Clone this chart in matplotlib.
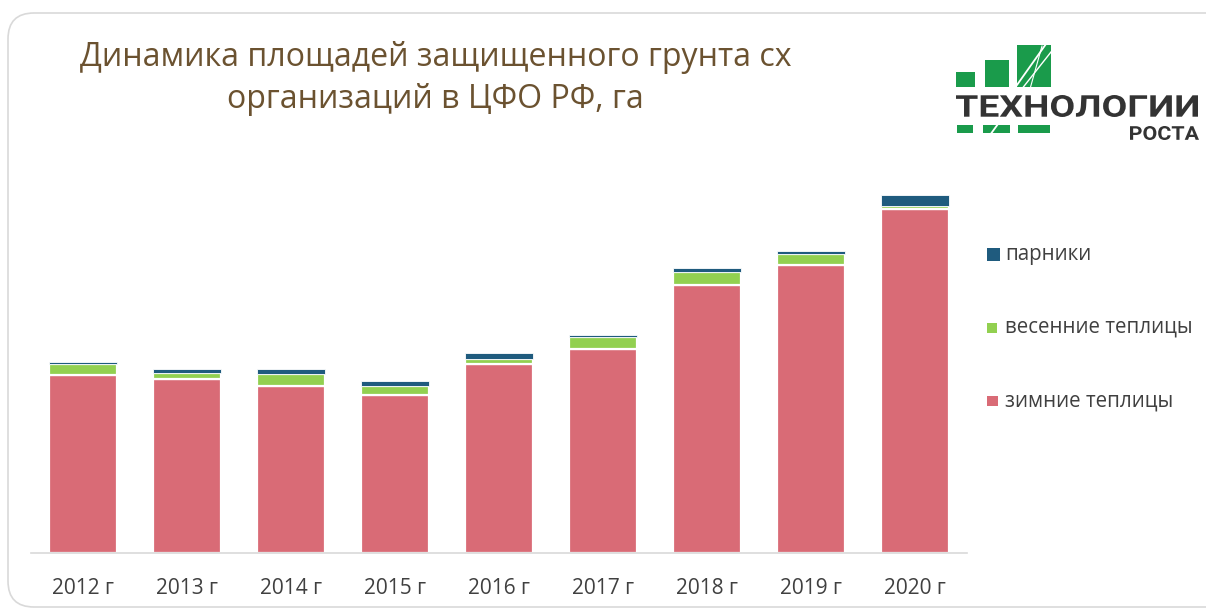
import matplotlib
matplotlib.use("Agg")
import matplotlib.pyplot as plt
import numpy as np
from matplotlib.patches import Rectangle, FancyBboxPatch, PathPatch
from matplotlib.textpath import TextPath
from matplotlib.font_manager import FontProperties
from matplotlib.transforms import Affine2D

# ---- data (relative area units) ----
years = ["2012 г", "2013 г", "2014 г", "2015 г", "2016 г", "2017 г", "2018 г", "2019 г", "2020 г"]
winter = [178, 174, 167, 158.5, 189.5, 204, 268, 288, 344]   # зимние теплицы
spring = [11, 6, 12, 9, 5, 12, 13.5, 11, 3.5]                # весенние теплицы
hotbeds = [2.5, 4, 5, 5, 6, 2.5, 4, 2.7, 10.5]               # парники
series_labels = ["парники", "весенние теплицы", "зимние теплицы"]
title_lines = ["Динамика площадей защищенного грунта сх", "организаций в ЦФО РФ, га"]

RED = "#D96B76"
GREEN = "#92D050"
BLUE = "#1F5B7E"
TXT = "#404040"
TITLE_C = "#6B5230"
FONT = "Open Sans"

W, H = 1206, 610
fig = plt.figure(figsize=(W / 100, H / 100), dpi=100)
fig.patch.set_facecolor("white")

# background overlay axes in pixel coords (y down)
bg = fig.add_axes([0, 0, 1, 1])
bg.set_xlim(0, W)
bg.set_ylim(H, 0)
bg.axis("off")
bg.add_patch(FancyBboxPatch((8, 13), 1260, 594, boxstyle="round,pad=0,rounding_size=26",
                            facecolor="white", edgecolor="#D9D9D9", linewidth=1.2))

# ---- main chart ----
base_y, top_y = 553, 180
ax = fig.add_axes([31 / W, (H - base_y) / H, 936 / W, (base_y - top_y) / H])
x = np.arange(len(years))
w = 0.65
winter_a = np.array(winter)
spring_a = np.array(spring)
hot_a = np.array(hotbeds)
ax.bar(x, winter_a, width=w, color=RED, edgecolor="white", linewidth=1.6, zorder=2)
ax.bar(x, spring_a, width=w, bottom=winter_a, color=GREEN, edgecolor="white", linewidth=1.6, zorder=2)
ax.bar(x, hot_a, width=w, bottom=winter_a + spring_a, color=BLUE, edgecolor="white", linewidth=0.6, zorder=2)
ax.set_xlim(-0.5, len(years) - 0.5)
ax.set_ylim(0, base_y - top_y)
ax.set_xticks(x)
ax.set_xticklabels(years, fontsize=15, color=TXT, family=FONT)
ax.tick_params(axis="x", length=0, pad=18)
ax.set_yticks([])
for s in ["top", "right", "left"]:
    ax.spines[s].set_visible(False)
ax.spines["bottom"].set_color("#D9D9D9")
ax.spines["bottom"].set_linewidth(1.2)
ax.set_facecolor("none")

# ---- title ----
fig.text(436 / W, 1 - 57 / H, title_lines[0], ha="center", va="center",
         fontsize=23.1, color=TITLE_C, family=FONT)
fig.text(435 / W, 1 - 100 / H, title_lines[1], ha="center", va="center",
         fontsize=23.1, color=TITLE_C, family=FONT)

# ---- legend (manual) ----
leg = [(series_labels[0], BLUE, 13, 254.5), (series_labels[1], GREEN, 10, 327.5),
       (series_labels[2], RED, 10.5, 401)]
for lab, col, sz, yc in leg:
    bg.add_patch(Rectangle((987, yc - sz / 2), sz, sz, facecolor=col, edgecolor="none"))
    bg.text(1005, yc, lab, ha="left", va="center", fontsize=14.8, color=TXT, family=FONT)

# ---- logo ----
LG = "#1A9B4B"
for (x0, x1, y0, y1) in [(956, 975, 72, 87), (985, 1009, 60, 87), (1017, 1051, 45, 87),
                         (957, 973, 125, 133), (983, 1010, 125, 133), (1018, 1050, 125, 133)]:
    bg.add_patch(Rectangle((x0, y0), x1 - x0, y1 - y0, facecolor=LG, edgecolor="none"))
bg.plot([1012, 1046], [92, 44], color="white", lw=1.3)
bg.plot([1021, 1051], [90, 52], color="white", lw=1.0)
bg.plot([1030, 1042], [89, 46], color="white", lw=0.8)
bg.plot([990, 998], [135, 124], color="white", lw=1.3)


def fit_text(s, x0, x1, ytop, ybot, color):
    tp = TextPath((0, 0), s, size=100, prop=FontProperties(family="Roboto", weight="bold"))
    ext = tp.get_extents()
    sx = (x1 - x0) / ext.width
    sy = (ybot - ytop) / ext.height
    tr = Affine2D().translate(-ext.x0, -ext.y0).scale(sx, -sy).translate(x0, ybot)
    bg.add_patch(PathPatch(tr.transform_path(tp), facecolor=color, edgecolor="none"))


fit_text("ТЕХНОЛОГИИ", 956, 1198, 95, 117, "#333333")
fit_text("РОСТА", 1130, 1199, 126, 140, "#333333")

fig.savefig("out.png", dpi=100)
